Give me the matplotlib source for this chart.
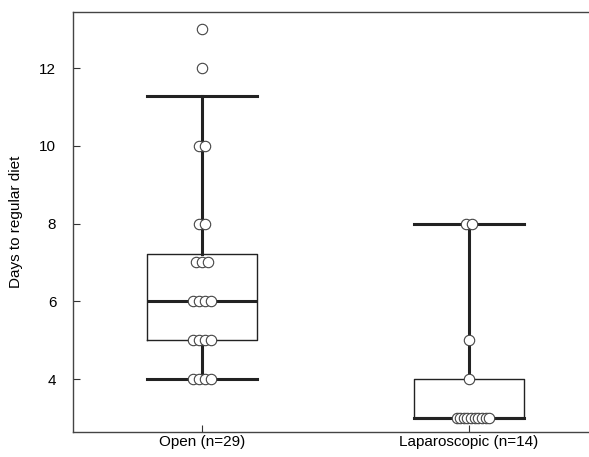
import matplotlib
matplotlib.use("Agg")
import matplotlib.pyplot as plt
import numpy as np

plt.rcParams['font.family'] = ['Liberation Sans', 'DejaVu Sans']

categories = ["Open (n=29)", "Laparoscopic (n=14)"]
# visible points (values in days)
open_days = [4, 4, 4, 4, 5, 5, 5, 5, 6, 6, 6, 6, 7, 7, 7, 8, 8, 10, 10, 12, 13]
lap_days = [3, 3, 3, 3, 3, 3, 3, 3, 3, 3, 4, 5, 8, 8]
# box statistics as drawn
whislo = [4, 3]
q1 = [5, 3]
med = [6, 3]
q3 = [7.23, 4]
whishi = [11.28, 8]

fig = plt.figure(figsize=(5.89, 4.57), dpi=100)
ax = fig.add_axes([0.124, 0.0547, 0.876, 0.919])

positions = [1, 2]
stats = []
for i in range(2):
    stats.append(dict(whislo=whislo[i], q1=q1[i], med=med[i], q3=q3[i],
                      whishi=whishi[i], fliers=[], label=categories[i]))

ax.bxp(stats, positions=positions, widths=0.41, showfliers=False,
       boxprops=dict(color='#222222', linewidth=1.0),
       medianprops=dict(color='#222222', linewidth=2.2),
       whiskerprops=dict(color='#222222', linewidth=2.2),
       capprops=dict(color='#222222', linewidth=2.2),
       capwidths=0.41)

def offsets(values, pos):
    xs, ys = [], []
    vals = np.array(values)
    for v in np.unique(vals):
        k = int((vals == v).sum())
        sp = 0.022 if k <= 4 else 0.0135
        shift = 0 if k <= 4 else 0.015
        for j in range(k):
            xs.append(pos + shift + (j - (k - 1) / 2) * sp)
            ys.append(v)
    return xs, ys

for data, pos in [(open_days, 1), (lap_days, 2)]:
    xs, ys = offsets(data, pos)
    ax.plot(xs, ys, 'o', markersize=7.5, markerfacecolor='white',
            markeredgecolor='#444444', markeredgewidth=0.8, zorder=5)

ax.set_xlim(0.517, 2.45)
ax.set_ylim(2.64, 13.44)
ax.set_yticks([4, 6, 8, 10, 12])
ax.set_xticks(positions)
ax.set_xticklabels(categories)
ax.set_ylabel("Days to regular diet", fontsize=11, labelpad=12)
ax.tick_params(labelsize=11, color='#333333', length=5, direction='in')
ax.tick_params(axis='y', pad=12)
ax.tick_params(axis='x', pad=2)
ax.spines['right'].set_visible(False)
for s in ['left', 'bottom', 'top']:
    ax.spines[s].set_color('#444444')
    ax.spines[s].set_linewidth(1.0)

fig.savefig("out.png", dpi=100)
